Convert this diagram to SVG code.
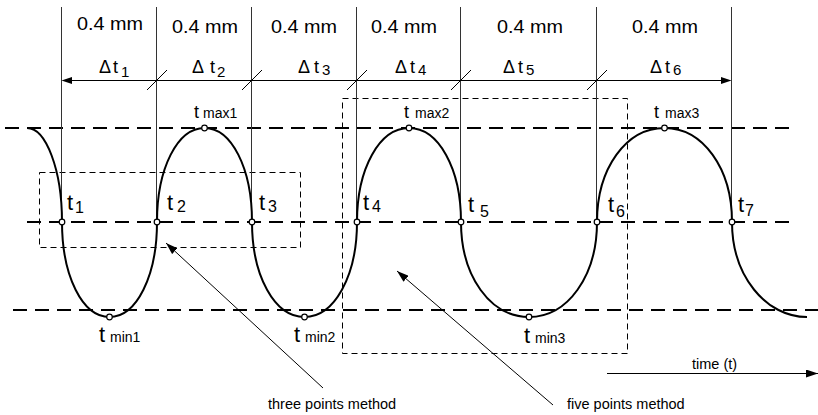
<svg xmlns="http://www.w3.org/2000/svg" width="818" height="415" viewBox="0 0 818 415">
<defs>
<style>
text{font-family:"Liberation Sans",Arial,sans-serif;fill:#000}
.mm{font-size:18px;text-anchor:middle}
.dt{font-size:18px}
.dts{font-size:15px}
.tl{font-size:22px}
.tls{font-size:16px}
.ts{font-size:14px}
.lab{font-size:14.5px}
.vl{stroke:#333;stroke-width:1;fill:none}
.thin{stroke:#000;stroke-width:1;fill:none}
.ref{stroke:#000;stroke-width:2;fill:none;stroke-dasharray:14 8}
.box{stroke:#000;stroke-width:1;fill:none;stroke-dasharray:6 4}
.curve{stroke:#000;stroke-width:2;fill:none}
.pt{fill:#fff;stroke:#000;stroke-width:1.2}
</style>
<marker id="ah" viewBox="0 0 12 8" refX="12" refY="4" markerWidth="12" markerHeight="8" markerUnits="userSpaceOnUse" orient="auto">
<path d="M0,0 L12,4 L0,8 Z" fill="#000"/>
</marker>
</defs>

<g id="reference-lines">
<path class="ref" d="M5,128 H790"/>
<path class="ref" d="M27,222 H790"/>
<path class="ref" d="M13,310 H818"/>
</g>

<g id="method-boxes">
<rect id="box-three" class="box" x="39.5" y="172.5" width="261" height="75"/>
<rect id="box-five" class="box" x="342.5" y="98.5" width="285" height="255"/>
</g>

<g id="grid">
<path class="vl" d="M61.5,7 V222 M156.5,7 V222 M251.5,7 V222 M356.5,7 V222 M460.5,7 V222 M596.5,7 V222 M731.5,7 V222"/>
</g>

<g id="dimension">
<path class="thin" d="M70,80.5 H724"/>
<path d="M61.5,80.5 L72,77 L72,84 Z M731.5,80.5 L721,77 L721,84 Z" fill="#000"/>
<path class="thin" d="M147,90 L167,70 M242,90 L262,70 M347,90 L367,70 M451,90 L471,70 M587,90 L607,70"/>
<text class="mm" x="110" y="30" textLength="66" lengthAdjust="spacingAndGlyphs">0.4 mm</text>
<text class="mm" x="205" y="33" textLength="66" lengthAdjust="spacingAndGlyphs">0.4 mm</text>
<text class="mm" x="304" y="33" textLength="66" lengthAdjust="spacingAndGlyphs">0.4 mm</text>
<text class="mm" x="404" y="33" textLength="66" lengthAdjust="spacingAndGlyphs">0.4 mm</text>
<text class="mm" x="530" y="33" textLength="66" lengthAdjust="spacingAndGlyphs">0.4 mm</text>
<text class="mm" x="665" y="33" textLength="66" lengthAdjust="spacingAndGlyphs">0.4 mm</text>
<text class="dt" x="99" y="73">Δ<tspan x="113">t</tspan><tspan class="dts" x="121" y="77">1</tspan></text>
<text class="dt" x="192" y="73">Δ<tspan x="210">t</tspan><tspan class="dts" x="217" y="77">2</tspan></text>
<text class="dt" x="298" y="73">Δ<tspan x="314">t</tspan><tspan class="dts" x="322" y="75">3</tspan></text>
<text class="dt" x="395" y="73">Δ<tspan x="410">t</tspan><tspan class="dts" x="418" y="75">4</tspan></text>
<text class="dt" x="503" y="73">Δ<tspan x="518">t</tspan><tspan class="dts" x="526" y="75">5</tspan></text>
<text class="dt" x="650" y="73">Δ<tspan x="665">t</tspan><tspan class="dts" x="673" y="75">6</tspan></text>
</g>

<g id="signal">
<path class="curve" d="M27,128 C46,128 62,170 62,222 C62,276 82.4,317 109.5,317 C136.6,317 157,276 157,222 C157,168.4 177.4,128 204.5,128 C231.6,128 252,168.4 252,222 C252,276 274.6,317 304.5,317 C334.4,317 357,276 357,222 C357,168.4 379.4,128 409,128 C438.6,128 461,168.4 461,222 C461,276 490.2,317 529,317 C567.8,317 597,276 597,222 C597,168.4 626,128 664.5,128 C703,128 732,168.4 732,222 C732,276 766,317 807,317"/>
</g>

<g id="points">
<circle class="pt" cx="62" cy="222" r="2.8"/>
<circle class="pt" cx="157" cy="222" r="2.8"/>
<circle class="pt" cx="252" cy="222" r="2.8"/>
<circle class="pt" cx="357" cy="222" r="2.8"/>
<circle class="pt" cx="461" cy="222" r="2.8"/>
<circle class="pt" cx="597" cy="222" r="2.8"/>
<circle class="pt" cx="732" cy="222" r="2.8"/>
<circle class="pt" cx="204.5" cy="128" r="2.8"/>
<circle class="pt" cx="409" cy="128" r="2.8"/>
<circle class="pt" cx="664.5" cy="128" r="2.8"/>
<circle class="pt" cx="109.5" cy="317" r="2.8"/>
<circle class="pt" cx="304.5" cy="317" r="2.8"/>
<circle class="pt" cx="529" cy="317" r="2.8"/>
</g>

<g id="point-labels">
<text class="tl" x="67" y="210">t<tspan class="tls" x="75" y="213">1</tspan></text>
<text class="tl" x="167" y="210">t<tspan class="tls" x="177" y="212">2</tspan></text>
<text class="tl" x="259" y="210">t<tspan class="tls" x="268" y="212">3</tspan></text>
<text class="tl" x="363" y="210">t<tspan class="tls" x="372" y="212">4</tspan></text>
<text class="tl" x="468" y="212">t<tspan class="tls" x="480" y="217">5</tspan></text>
<text class="tl" x="608" y="212">t<tspan class="tls" x="616" y="217">6</tspan></text>
<text class="tl" x="738" y="212">t<tspan class="tls" x="745" y="216">7</tspan></text>
<text class="dt" x="194" y="118">t<tspan class="ts" x="203" y="118">max1</tspan></text>
<text class="dt" x="404" y="118">t<tspan class="ts" x="415" y="118">max2</tspan></text>
<text class="dt" x="654" y="118">t<tspan class="ts" x="665" y="118">max3</tspan></text>
<text class="tl" x="99" y="342">t<tspan class="ts" x="110" y="342">min1</tspan></text>
<text class="tl" x="294" y="342">t<tspan class="ts" x="305" y="342">min2</tspan></text>
<text class="tl" x="524" y="343">t<tspan class="ts" x="535" y="343">min3</tspan></text>
</g>

<g id="connectors">
<path class="thin" d="M323,388 L166,243" marker-end="url(#ah)"/>
<path class="thin" d="M553,405 L397,271" marker-end="url(#ah)"/>
<path class="thin" d="M607,373.5 L818,373.5" marker-end="url(#ah)"/>
</g>

<g id="captions">
<text class="lab" x="268" y="409">three points method</text>
<text class="lab" x="567" y="409">five points method</text>
<text class="lab" x="692" y="369">time (t)</text>
</g>
</svg>
